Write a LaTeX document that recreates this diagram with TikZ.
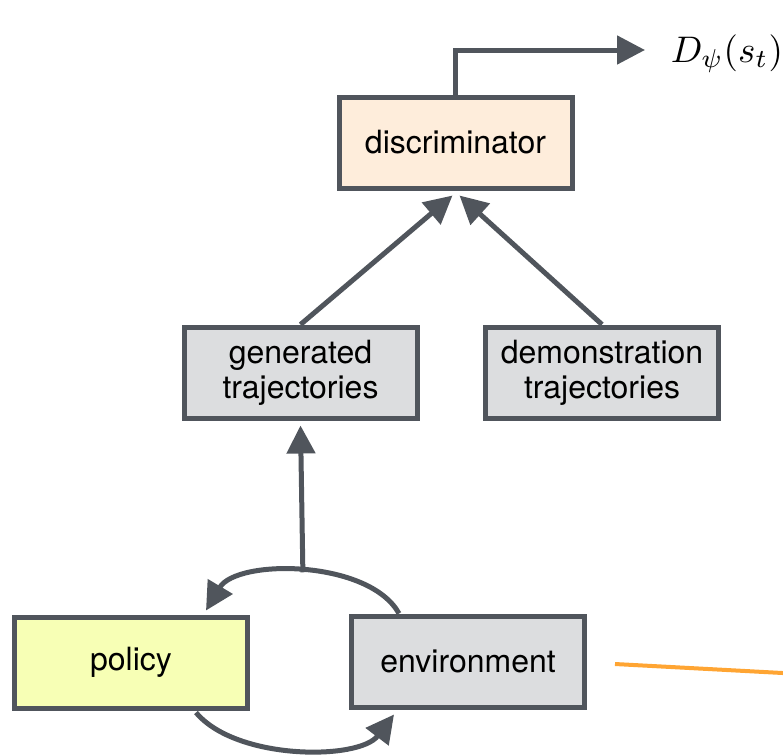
\documentclass[tikz,border=0pt]{standalone}
\usepackage{fontspec}
\newfontfamily\helv{TeX Gyre Heros}
\usetikzlibrary{arrows.meta,calc}
\definecolor{edgegray}{HTML}{50555C}
\definecolor{boxgray}{HTML}{DCDDDF}
\definecolor{discfill}{HTML}{FEEDDB}
\definecolor{policyfill}{HTML}{F7FFB5}
\definecolor{orangeline}{HTML}{FFA533}
\tikzset{
  block/.style={draw=edgegray, line width=5pt, minimum width=233pt, minimum height=91pt,
    inner sep=0pt, align=center, font=\helv\fontsize{32}{35}\selectfont, text=black},
  conn/.style={draw=edgegray, line width=5pt, -{Triangle[length=28pt,width=28pt]}}
}
\begin{document}
\begin{tikzpicture}[x=1pt,y=-1pt]
\useasboundingbox (0,0) rectangle (783,755);

% boxes
\node[block, fill=discfill] (disc) at (455.5,142.5) {discriminator};
\node[block, fill=boxgray] (gen) at (300.5,372.5) {generated\\trajectories};
\node[block, fill=boxgray] (demo) at (602,372.5) {demonstration\\trajectories};
\node[block, fill=policyfill] (policy) at (131,662.5) {policy};
\node[block, fill=boxgray] (env) at (468,661.5) {environment};

% discriminator output
\coordinate (dout) at (645,50);
\node[anchor=base west, inner sep=0pt, scale=3.7, font=\fontsize{10}{12}\selectfont] (dlabel) at (670,62) {$D_\psi(s_t)$};
\draw[conn] (disc.north) |- (dout);

% trajectories into the discriminator
\draw[conn] (gen.north) -- ($(disc.south)+(-3,5)$);
\draw[conn] (demo.north) -- ($(disc.south)+(4,5)$);

% interaction loop between policy and environment
\draw[conn] ($(env.north west)+(50,0)$) .. controls +(-30,-54) and +(31,-52) ..
  coordinate[pos=0.5] (apex) ($(policy.north east)+(-44,-4)$);
\draw[conn] ($(policy.south east)+(-54,2)$) .. controls +(40,48) and +(-35,46) ..
  ($(env.south west)+(45,5)$);

% rollouts feed the generated trajectories
\draw[conn] (apex) -- ($(gen.south)+(0,5)$);

% orange line leaving to the right
\coordinate (oa) at (615,664);
\coordinate (ob) at (790,673.4);
\draw[orangeline, line width=4pt] (oa) -- (ob);
\end{tikzpicture}
\end{document}
